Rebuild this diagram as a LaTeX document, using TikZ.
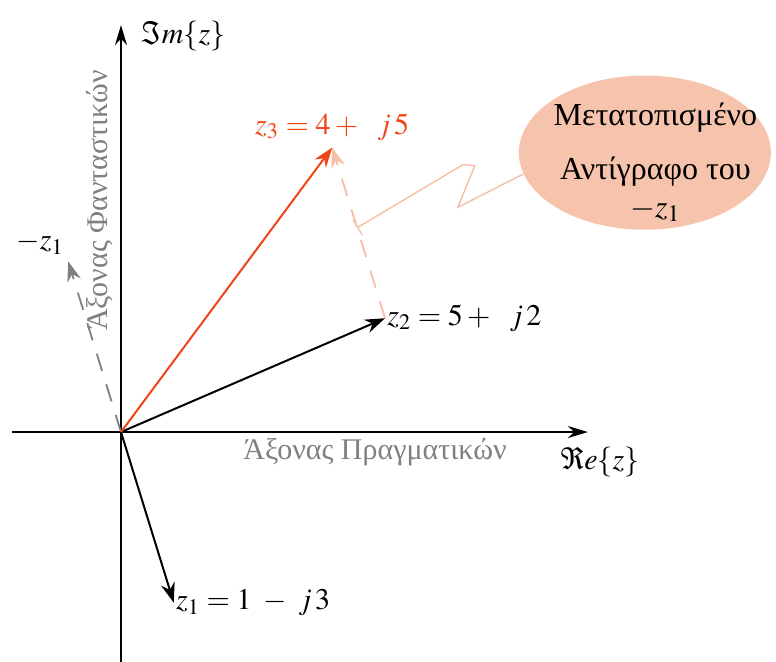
\documentclass[tikz,border=0pt]{standalone}
\usepackage{mathptmx}
\usepackage[no-math]{fontspec}
\setmainfont{Liberation Serif}
\usetikzlibrary{arrows.meta,calc,shapes.geometric}
\definecolor{zred}{RGB}{240,68,22}
\definecolor{zpink}{RGB}{248,190,165}
\definecolor{zfill}{RGB}{246,196,172}
\definecolor{zgray}{RGB}{128,128,128}

\begin{document}
\begin{tikzpicture}[x=0.928cm, y=1.0cm,
    every node/.style={font=\fontsize{15}{18}\selectfont},
    vec/.style={line width=1pt, -{Stealth[length=10pt,width=7pt]}},
    axis/.style={line width=0.8pt, -{Stealth[length=10pt,width=6pt]}},
    shifted/.style={dash pattern=on 9pt off 7pt, line width=0.9pt, -{Stealth[length=10pt,width=7pt]}}]
    \useasboundingbox (-2.126cm,-4.024cm) rectangle (11.51cm,7.592cm);

    % axes
    \coordinate (o) at (0,0);
    \coordinate (xl) at (-2.06,0);
    \coordinate (xr) at (8.84,0);
    \coordinate (yb) at (0,-4.1);
    \coordinate (yt) at (0,7.15);
    \draw[axis] (xl) -- (xr);
    \draw[axis] (yb) -- (yt);

    \node[anchor=west] (im) at (0.25,6.96) {$\Im m\{z\}$};
    \node (re) at (9.07,-0.53) {$\Re e\{z\}$};
    \node[zgray] (reaxis) at (4.81,-0.35) {Άξονας Πραγματικών};
    \node[zgray, rotate=90] (imaxis) at (-0.40,4.07) {Άξονας Φανταστικών};

    % vectors
    \coordinate (t1) at (1,-3);
    \coordinate (t2) at (5,2);
    \coordinate (t3) at (4,5);
    \coordinate (tm1) at (-1,3);

    \draw[shifted, zgray] (o) -- (tm1);
    \draw[shifted, zpink] (t2) -- (t3);
    \draw[vec] (o) -- (t1);
    \draw[vec] (o) -- (t2);
    \draw[vec, zred] (o) -- (t3);

    \node[anchor=west, inner sep=1pt] (l1) at (t1) {$z_1 = 1\ -\ j\,3$};
    \node[anchor=west, inner sep=1pt] (l2) at (t2) {$z_2 = 5+\ \ j\,2$};
    \node[anchor=south, zred] (l3) at (t3) {$z_3 = 4+\ \ j\,5$};
    \node (lm1) at (-1.53,3.32) {$-z_1$};

    % note
    \node[ellipse, fill=zfill, minimum width=4.43cm, minimum height=2.71cm,
        inner sep=0pt] (note) at (9.92,4.91) {};
    \node[align=center, font=\fontsize{16}{18}\selectfont] (notetext)
        at ($(note.center)+(0.2,-0.17)$)
        {Μετατοπισμένο\\[9pt]Αντίγραφο του\\[1pt]$-z_1$};

    \coordinate (hit) at ($(t2)!0.53!(t3)$);
    \coordinate (k1) at (6.38,3.95);
    \coordinate (k2) at (6.70,4.68);
    \coordinate (k3) at (6.48,4.70);
    \draw[zpink, line width=0.7pt, -{Bar[width=9pt]}] (note.190) -- (k1) -- (k2) -- (k3) -- (hit);
\end{tikzpicture}
\end{document}
